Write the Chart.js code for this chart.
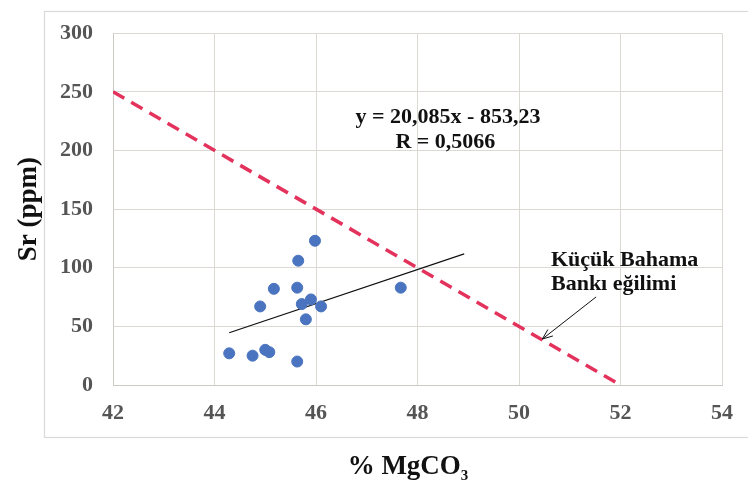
<!DOCTYPE html>
<html>
<head>
<meta charset="utf-8">
<script src="https://cdn.jsdelivr.net/npm/chart.js@4/dist/chart.umd.min.js"></script>
<style>
  html, body { margin: 0; padding: 0; background: #ffffff; }
  #wrap { width: 748px; height: 482px; position: relative; }
</style>
</head>
<body>
<div id="wrap"><canvas id="c" width="748" height="482"></canvas></div>
<script>
// Samples: MgCO3 content (%) and strontium (ppm)
const mgco3 = [44.29, 44.75, 45.00, 45.08, 45.63, 44.90, 45.17, 45.63, 45.65, 45.98, 45.72, 45.90, 46.10, 45.80, 47.67];
const srPpm = [27, 25, 30, 28, 20, 67, 82, 83, 106, 123, 69, 73, 67, 56, 83];

// Fitted trend line over the sample range
const trendX = [44.29, 48.92];
const trendY = [44.6, 111.8];

// Little Bahama Bank trend
const bankX = [42, 52];
const bankY = [250, 0];

// Axis ticks
const xTicks = [42, 44, 46, 48, 50, 52, 54];
const yTicks = [0, 50, 100, 150, 200, 250, 300];

// Text labels
const equationText = 'y = 20,085x - 853,23';
const rText = 'R = 0,5066';
const bankLabel = ['Küçük Bahama', 'Bankı eğilimi'];
const yTitle = 'Sr (ppm)';
const xTitleMain = '% MgCO';
const xTitleSub = '3';

const pts = (xs, ys) => xs.map((x, i) => ({ x: x, y: ys[i] }));

const serif = '"Liberation Serif", "Times New Roman", serif';

const decorations = {
  id: 'decorations',
  beforeDraw(chart) {
    const ctx = chart.ctx;
    ctx.save();
    ctx.fillStyle = '#ffffff';
    ctx.fillRect(0, 0, chart.width, chart.height);
    // outer frame
    ctx.strokeStyle = '#d9d9d9';
    ctx.lineWidth = 1.2;
    ctx.strokeRect(44.5, 11.5, 760, 426);
    ctx.restore();
  },
  afterDraw(chart) {
    const ctx = chart.ctx;
    const xs = chart.scales.x, ys = chart.scales.y;
    const px = v => xs.getPixelForValue(v);
    const py = v => ys.getPixelForValue(v);
    ctx.save();
    ctx.fillStyle = '#111111';

    // regression equation
    ctx.font = 'bold 22px ' + serif;
    ctx.textAlign = 'center';
    ctx.textBaseline = 'alphabetic';
    ctx.fillText(equationText, px(48.6), py(223.5));
    ctx.fillText(rText, px(48.55), py(201.9));

    // trend label
    ctx.textAlign = 'left';
    ctx.fillText(bankLabel[0], px(50.63), py(101.5));
    ctx.fillText(bankLabel[1], px(50.63), py(81));

    // arrow toward the bank trend line
    const x1 = px(51.52), y1 = py(75.1), x2 = px(50.46), y2 = py(39.2);
    ctx.strokeStyle = '#111111';
    ctx.lineWidth = 1;
    ctx.beginPath();
    ctx.moveTo(x1, y1);
    ctx.lineTo(x2, y2);
    const a = Math.atan2(y2 - y1, x2 - x1);
    const h = 11;
    ctx.moveTo(x2 - h * Math.cos(a - 0.38), y2 - h * Math.sin(a - 0.38));
    ctx.lineTo(x2, y2);
    ctx.lineTo(x2 - h * Math.cos(a + 0.38), y2 - h * Math.sin(a + 0.38));
    ctx.stroke();

    // y axis title
    ctx.save();
    ctx.translate(29, (chart.chartArea.top + chart.chartArea.bottom) / 2);
    ctx.rotate(-Math.PI / 2);
    ctx.font = 'bold 27px ' + serif;
    ctx.textAlign = 'center';
    ctx.textBaseline = 'middle';
    ctx.fillText(yTitle, 0, 0);
    ctx.restore();

    // x axis title with subscript
    ctx.font = 'bold 27px ' + serif;
    const wMain = ctx.measureText(xTitleMain).width;
    ctx.font = 'bold 15px ' + serif;
    const wSub = ctx.measureText(xTitleSub).width;
    const left = 408 - (wMain + wSub) / 2;
    ctx.textAlign = 'left';
    ctx.font = 'bold 27px ' + serif;
    ctx.fillText(xTitleMain, left, 474);
    ctx.font = 'bold 15px ' + serif;
    ctx.fillText(xTitleSub, left + wMain, 480);
    ctx.restore();
  }
};

new Chart(document.getElementById('c'), {
  type: 'scatter',
  data: {
    datasets: [
      {
        label: 'Bank',
        type: 'line',
        data: pts(bankX, bankY),
        borderColor: '#e3335c',
        borderWidth: 3.5,
        borderDash: [13, 8],
        pointRadius: 0,
        fill: false,
        order: 2
      },
      {
        label: 'Trend',
        type: 'line',
        data: pts(trendX, trendY),
        borderColor: '#111111',
        borderWidth: 1.2,
        pointRadius: 0,
        fill: false,
        order: 1
      },
      {
        label: 'Sr',
        data: pts(mgco3, srPpm),
        backgroundColor: '#4a74c0',
        borderColor: '#4a74c0',
        pointRadius: 5.5,
        pointHoverRadius: 5.5,
        order: 0
      }
    ]
  },
  options: {
    responsive: false,
    animation: false,
    devicePixelRatio: 1,
    layout: { padding: { top: 33, right: 25, left: 0, bottom: 0 } },
    plugins: {
      legend: { display: false },
      tooltip: { enabled: false }
    },
    scales: {
      x: {
        type: 'linear',
        min: 42, max: 54,
        afterBuildTicks: s => { s.ticks = xTicks.map(v => ({ value: v })); },
        afterFit: s => { s.height = 97; },
        grid: { color: '#dcd8d4', lineWidth: 1, drawTicks: false },
        border: { display: true, color: '#cdc9c5', width: 1 },
        ticks: {
          padding: 15,
          color: '#555555',
          font: { family: serif, size: 22, weight: 'bold' }
        }
      },
      y: {
        type: 'linear',
        min: 0, max: 300,
        afterBuildTicks: s => { s.ticks = yTicks.map(v => ({ value: v })); },
        afterFit: s => { s.width = 113; },
        grid: { color: '#dcd8d4', lineWidth: 1, drawTicks: false },
        border: { display: true, color: '#cdc9c5', width: 1 },
        ticks: {
          padding: 20,
          color: '#555555',
          font: { family: serif, size: 22, weight: 'bold' }
        }
      }
    }
  },
  plugins: [decorations]
});
</script>
</body>
</html>
